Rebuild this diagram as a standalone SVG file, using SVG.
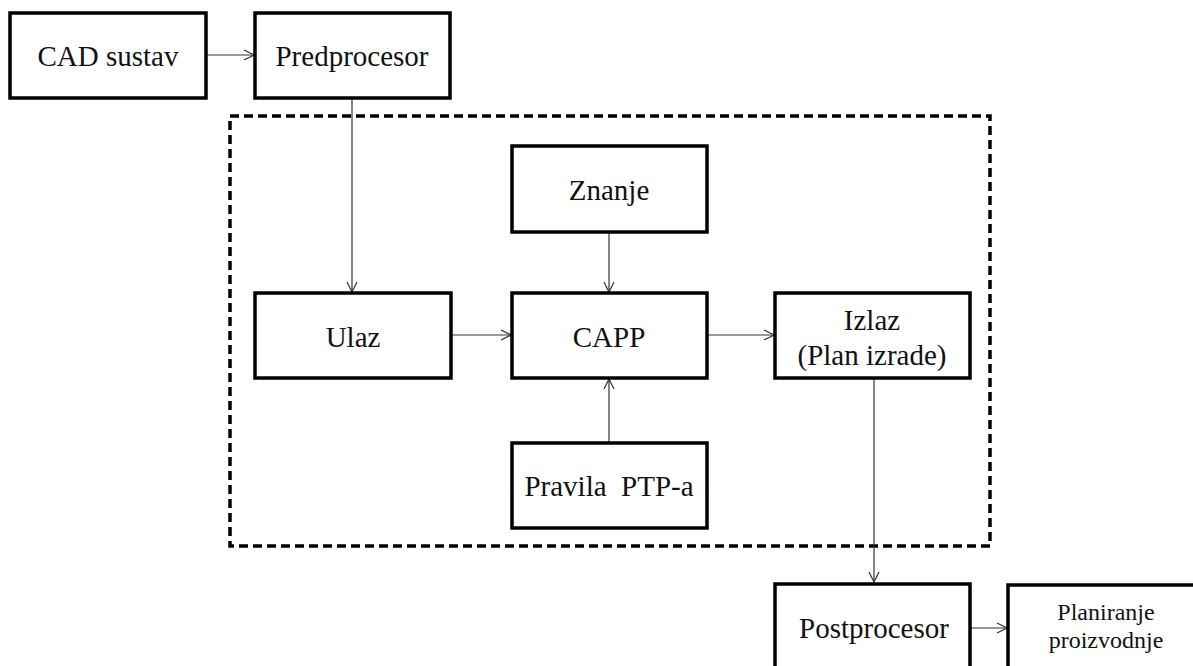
<svg xmlns="http://www.w3.org/2000/svg" width="1193" height="666" viewBox="0 0 1193 666">
<defs>
<marker id="arr" viewBox="0 0 12 12" refX="11" refY="6" markerWidth="12" markerHeight="12" markerUnits="userSpaceOnUse" orient="auto">
<path d="M1,1 L11,6 L1,11" fill="none" stroke="#333" stroke-width="1.2"/>
</marker>
<style>
.box{fill:#fff;stroke:#000;stroke-width:3.5}
.lbl{font-size:29px;fill:#111;text-anchor:middle}
.sm{font-size:24px}
.con{stroke:#333;stroke-width:1.2;fill:none;marker-end:url(#arr)}
.dash{fill:none;stroke:#000;stroke-width:3.5;stroke-dasharray:9 5}
</style>
</defs>
<rect width="1193" height="666" fill="#fff"/>
<rect id="boundary" class="dash" x="230" y="116" width="760" height="430"/>
<g id="connectors">
<line class="con" x1="206" y1="55" x2="254" y2="55"/>
<line class="con" x1="352" y1="98" x2="352" y2="292"/>
<line class="con" x1="609" y1="232" x2="609" y2="292"/>
<line class="con" x1="451" y1="335" x2="511" y2="335"/>
<line class="con" x1="707" y1="335" x2="774" y2="335"/>
<line class="con" x1="609" y1="442" x2="609" y2="379"/>
<line class="con" x1="874" y1="378" x2="874" y2="582"/>
<line class="con" x1="970" y1="628" x2="1007" y2="628"/>
</g>
<g font-family="Liberation Serif, Times New Roman, DejaVu Serif, serif">
<g id="cad"><rect class="box" x="10" y="13" width="196" height="85"/><text class="lbl" x="108" y="66">CAD sustav</text></g>
<g id="predprocesor"><rect class="box" x="255" y="13" width="195" height="85"/><text class="lbl" x="352" y="66">Predprocesor</text></g>
<g id="znanje"><rect class="box" x="512" y="146" width="195" height="86"/><text class="lbl" x="609" y="200">Znanje</text></g>
<g id="ulaz"><rect class="box" x="255" y="293" width="196" height="85"/><text class="lbl" x="353" y="347">Ulaz</text></g>
<g id="capp"><rect class="box" x="512" y="293" width="195" height="85"/><text class="lbl" x="609" y="347">CAPP</text></g>
<g id="izlaz"><rect class="box" x="775" y="293" width="195" height="85"/><text class="lbl" x="872" y="330">Izlaz</text><text class="lbl" x="872" y="365">(Plan izrade)</text></g>
<g id="pravila"><rect class="box" x="512" y="443" width="195" height="85"/><text class="lbl" x="609" y="496" xml:space="preserve">Pravila  PTP-a</text></g>
<g id="postprocesor"><rect class="box" x="775" y="584" width="195" height="85"/><text class="lbl" x="874" y="638">Postprocesor</text></g>
<g id="planiranje"><rect class="box" x="1008" y="585" width="196" height="85"/><text class="lbl sm" x="1106" y="620">Planiranje</text><text class="lbl sm" x="1106" y="648">proizvodnje</text></g>
</g>
</svg>
